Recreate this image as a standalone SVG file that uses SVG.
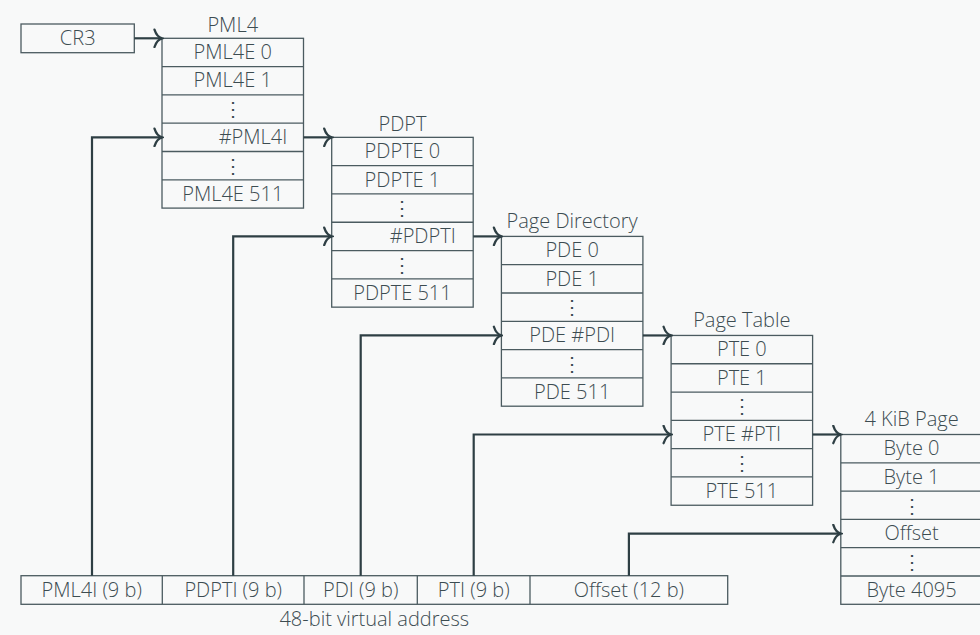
<svg xmlns="http://www.w3.org/2000/svg" width="980" height="635" viewBox="0 0 980 635">
  <defs>
    <style>
      .bg { fill: #f8f9f9; }
      .box { fill: none; stroke: #4b5b60; stroke-width: 1.3; }
      .sep { stroke: #4b5b60; stroke-width: 1.3; }
      .wire { fill: none; stroke: #2e3f44; stroke-width: 2.2; }
      text { font-family: "Open Sans", "Noto Sans", "DejaVu Sans", sans-serif; font-weight: 300; font-size: 20px; fill: #3c4c51; text-anchor: middle; }
      .dots { font-family: "DejaVu Sans", sans-serif; font-size: 20px; }
    </style>
    <marker id="arrow" markerUnits="userSpaceOnUse" viewBox="-10 -10 12 20" refX="0" refY="0" markerWidth="12" markerHeight="20" orient="auto">
      <path d="M-7.5,-8.7 C-6,-4 -3,-0.8 0,0 C-3,0.8 -6,4 -7.5,8.7" fill="none" stroke="#2e3f44" stroke-width="2.3" stroke-linecap="round"/>
    </marker>
    <!-- horizontal separators shared by every six-row table -->
    <g id="rows">
      <line class="sep" x1="0" y1="28.3" x2="141.5" y2="28.3"/>
      <line class="sep" x1="0" y1="56.6" x2="141.5" y2="56.6"/>
      <line class="sep" x1="0" y1="84.9" x2="141.5" y2="84.9"/>
      <line class="sep" x1="0" y1="113.2" x2="141.5" y2="113.2"/>
      <line class="sep" x1="0" y1="141.5" x2="141.5" y2="141.5"/>
      <rect class="box" x="0" y="0" width="141.5" height="169.8"/>
    </g>
  </defs>

  <rect class="bg" x="0" y="0" width="980" height="635"/>

  <!-- CR3 register -->
  <g id="cr3">
    <rect class="box" x="21" y="24" width="113.3" height="28.7"/>
    <text x="77.7" y="45.4">CR3</text>
  </g>

  <!-- PML4 table -->
  <g id="pml4" transform="translate(162,38.3)">
    <text x="70.75" y="-6.3">PML4</text>
    <use href="#rows"/>
    <text x="70.75" y="20.9">PML4E 0</text>
    <text x="70.75" y="49.2">PML4E 1</text>
    <text class="dots" x="70.75" y="78">⋮</text>
    <text x="91" y="105.8">#PML4I</text>
    <text class="dots" x="70.75" y="134.6">⋮</text>
    <text x="70.75" y="162.4">PML4E 511</text>
  </g>

  <!-- Page directory pointer table -->
  <g id="pdpt" transform="translate(331.7,137.35)">
    <text x="70.75" y="-6.3">PDPT</text>
    <use href="#rows"/>
    <text x="70.75" y="20.9">PDPTE 0</text>
    <text x="70.75" y="49.2">PDPTE 1</text>
    <text class="dots" x="70.75" y="78">⋮</text>
    <text x="91" y="105.8">#PDPTI</text>
    <text class="dots" x="70.75" y="134.6">⋮</text>
    <text x="70.75" y="162.4">PDPTE 511</text>
  </g>

  <!-- Page directory -->
  <g id="page-directory" transform="translate(501.4,236.4)">
    <text x="70.75" y="-8.5">Page Directory</text>
    <use href="#rows"/>
    <text x="70.75" y="20.9">PDE 0</text>
    <text x="70.75" y="49.2">PDE 1</text>
    <text class="dots" x="70.75" y="78">⋮</text>
    <text x="70.75" y="105.8">PDE #PDI</text>
    <text class="dots" x="70.75" y="134.6">⋮</text>
    <text x="70.75" y="162.4">PDE 511</text>
  </g>

  <!-- Page table -->
  <g id="page-table" transform="translate(671.1,335.45)">
    <text x="70.75" y="-8.5">Page Table</text>
    <use href="#rows"/>
    <text x="70.75" y="20.9">PTE 0</text>
    <text x="70.75" y="49.2">PTE 1</text>
    <text class="dots" x="70.75" y="78">⋮</text>
    <text x="70.75" y="105.8">PTE #PTI</text>
    <text class="dots" x="70.75" y="134.6">⋮</text>
    <text x="70.75" y="162.4">PTE 511</text>
  </g>

  <!-- 4 KiB page frame -->
  <g id="page" transform="translate(840.8,434.5)">
    <text x="70.75" y="-8.5">4 KiB Page</text>
    <use href="#rows"/>
    <text x="70.75" y="20.9">Byte 0</text>
    <text x="70.75" y="49.2">Byte 1</text>
    <text class="dots" x="70.75" y="78">⋮</text>
    <text x="70.75" y="105.8">Offset</text>
    <text class="dots" x="70.75" y="134.6">⋮</text>
    <text x="70.75" y="162.4">Byte 4095</text>
  </g>

  <!-- Virtual address split into fields -->
  <g id="virtual-address">
    <rect class="box" x="21" y="575.7" width="706.7" height="28.6"/>
    <line class="sep" x1="162.3" y1="575.7" x2="162.3" y2="604.3"/>
    <line class="sep" x1="304" y1="575.7" x2="304" y2="604.3"/>
    <line class="sep" x1="417.3" y1="575.7" x2="417.3" y2="604.3"/>
    <line class="sep" x1="530" y1="575.7" x2="530" y2="604.3"/>
    <text x="91.7" y="596.6">PML4I (9 b)</text>
    <text x="233.2" y="596.6">PDPTI (9 b)</text>
    <text x="360.7" y="596.6">PDI (9 b)</text>
    <text x="473.7" y="596.6">PTI (9 b)</text>
    <text x="628.9" y="596.6">Offset (12 b)</text>
    <text x="374.3" y="626">48-bit virtual address</text>
  </g>

  <!-- Connectors -->
  <g id="connectors" class="wire">
    <path class="wire" d="M134.3,38.3 H162" marker-end="url(#arrow)"/>
    <path class="wire" d="M303.5,137.35 H331.7" marker-end="url(#arrow)"/>
    <path class="wire" d="M473.2,236.4 H501.4" marker-end="url(#arrow)"/>
    <path class="wire" d="M642.9,335.45 H671.1" marker-end="url(#arrow)"/>
    <path class="wire" d="M812.6,434.5 H840.8" marker-end="url(#arrow)"/>
    <path class="wire" d="M92,575.7 V137.35 H162" marker-end="url(#arrow)"/>
    <path class="wire" d="M233.2,575.7 V236.4 H331.7" marker-end="url(#arrow)"/>
    <path class="wire" d="M360.7,575.7 V335.45 H501.4" marker-end="url(#arrow)"/>
    <path class="wire" d="M473.7,575.7 V434.5 H671.1" marker-end="url(#arrow)"/>
    <path class="wire" d="M628.9,575.7 V533.55 H840.8" marker-end="url(#arrow)"/>
  </g>
</svg>
